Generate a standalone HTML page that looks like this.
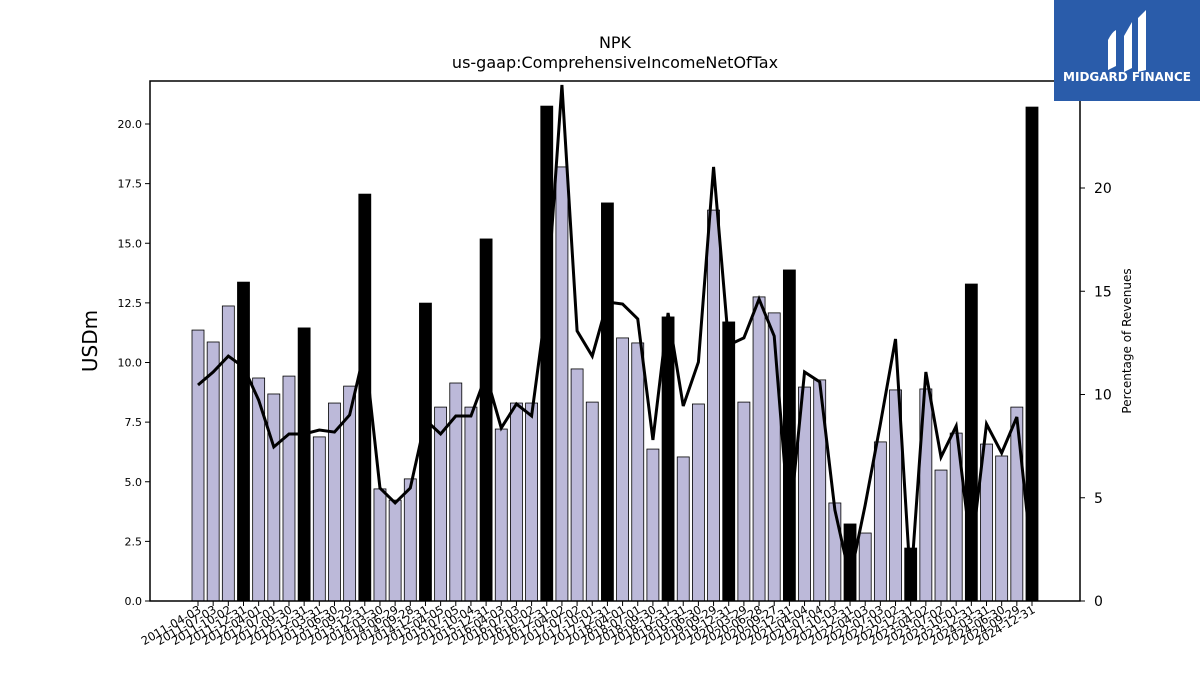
<!DOCTYPE html>
<html><head><meta charset="utf-8"><style>body{margin:0;background:#fff}svg{font-family:"DejaVu Sans","Liberation Sans",sans-serif}</style></head>
<body>
<svg id="c" width="1200" height="675" viewBox="0 0 1200 675">
<text x="615" y="48" text-anchor="middle" font-size="16">NPK</text>
<text x="615" y="68" text-anchor="middle" font-size="16">us-gaap:ComprehensiveIncomeNetOfTax</text>
<g id="bars"></g>
<g id="line"></g>
<rect x="150" y="81" width="930" height="520" fill="none" stroke="#000" stroke-width="1.5"/>
<g id="axes"></g>
<text transform="translate(97,341) rotate(-90)" text-anchor="middle" font-size="20">USDm</text>
<text transform="translate(1131,341) rotate(-90)" text-anchor="middle" font-size="12">Percentage of Revenues</text>
<g>
<rect x="1054" y="0" width="146" height="101" fill="#2a5caa"/>
<path d="M1108 70 L1108 40 Q1112 32 1116 30 L1116 66 Z M1124 36 L1132 22 L1132 68 L1124 72 Z M1138 18 L1146 10 L1146 70 L1138 72 Z" fill="#fff"/>
<text x="1127" y="81" text-anchor="middle" font-size="12" font-weight="bold" fill="#fff">MIDGARD FINANCE</text>
</g>
</svg>
<script>
const dates=["2011-04-03","2011-07-03","2011-10-02","2011-12-31","2012-04-01","2012-07-01","2012-09-30","2012-12-31","2013-03-31","2013-06-30","2013-09-29","2013-12-31","2014-03-30","2014-06-29","2014-09-28","2014-12-31","2015-04-05","2015-07-05","2015-10-04","2015-12-31","2016-04-03","2016-07-03","2016-10-02","2016-12-31","2017-04-02","2017-07-02","2017-10-01","2017-12-31","2018-04-01","2018-07-01","2018-09-30","2018-12-31","2019-03-31","2019-06-30","2019-09-29","2019-12-31","2020-03-29","2020-06-28","2020-09-27","2020-12-31","2021-04-04","2021-07-04","2021-10-03","2021-12-31","2022-04-03","2022-07-03","2022-10-02","2022-12-31","2023-04-02","2023-07-02","2023-10-01","2023-12-31","2024-03-31","2024-06-30","2024-09-29","2024-12-31"];
const values=[11.36,10.86,12.37,13.37,9.35,8.68,9.43,11.45,6.88,8.30,9.01,17.06,4.70,4.23,5.12,12.49,8.13,9.14,8.13,15.18,7.21,8.30,8.30,20.75,18.20,9.73,8.34,16.69,11.03,10.82,6.37,11.91,6.04,8.26,16.39,11.70,8.34,12.75,12.08,13.88,8.97,9.27,4.11,3.23,2.85,6.67,8.85,2.22,8.89,5.49,7.04,13.29,6.58,6.08,8.13,20.71];
const pct=[10.46,11.09,11.86,11.33,9.73,7.46,8.09,8.09,8.28,8.18,9.01,12.15,5.47,4.75,5.47,8.77,8.09,8.96,8.96,10.94,8.38,9.54,8.96,14.48,24.99,13.08,11.86,14.48,14.38,13.66,7.80,13.95,9.44,11.57,21.02,12.40,12.74,14.62,12.83,3.68,11.09,10.61,4.41,1.11,4.65,8.57,12.69,0.77,11.09,6.97,8.47,2.37,8.57,7.17,8.91,1.99];
const yTicks=[0,2.5,5,7.5,10,12.5,15,17.5,20];
const y2Ticks=[0,5,10,15,20];
const NS="http://www.w3.org/2000/svg";
const x=i=>198+i*(1032-198)/(dates.length-1);
const y=v=>601-v*(601-124)/20;
const y2=v=>601-v*(601-188)/20;
function mk(t,a,p){const e=document.createElementNS(NS,t);for(const k in a)e.setAttribute(k,a[k]);if(p)p.appendChild(e);return e;}
const bars=document.getElementById('bars'),line=document.getElementById('line'),axes=document.getElementById('axes');
const bw=12;
values.forEach((v,i)=>{const r=mk('rect',{x:x(i)-bw/2,y:y(v),width:bw,height:601-y(v),fill:(i%4===3)?'#000':'#bcb9d9',stroke:'#000','stroke-width':0.8},bars);

});
const pl=mk('polyline',{points:pct.map((v,i)=>x(i)+','+y2(v)).join(' '),fill:'none',stroke:'#000','stroke-width':3},line);


yTicks.forEach(t=>{mk('line',{x1:145,x2:150,y1:y(t),y2:y(t),stroke:'#000'},axes);
const tx=mk('text',{x:142,y:y(t)+4,'text-anchor':'end','font-size':11},axes);tx.textContent=t.toFixed(1);

});
y2Ticks.forEach(t=>{mk('line',{x1:1080,x2:1085,y1:y2(t),y2:y2(t),stroke:'#000'},axes);
const tx=mk('text',{x:1094,y:y2(t)+5,'font-size':14},axes);tx.textContent=t;

});
dates.forEach((d,i)=>{mk('line',{x1:x(i),x2:x(i),y1:601,y2:606,stroke:'#000'},axes);
const tx=mk('text',{transform:'translate('+(x(i)+4)+',612) rotate(-30)','text-anchor':'end','font-size':11.5},axes);tx.textContent=d;

});
</script>
</body></html>
